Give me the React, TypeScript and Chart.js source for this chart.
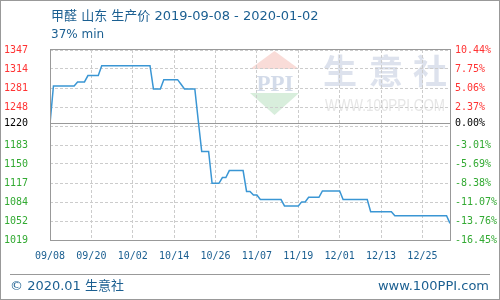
import { useEffect, useRef } from "react";
import { Chart, registerables } from "chart.js";

Chart.register(...registerables);

// ---- data ----
const titleText = "甲醛 山东 生产价 2019-09-08 - 2020-01-02";
const subtitleText = "37% min";
const footerLeft = "© 2020.01 生意社";
const footerRight = "www.100PPI.com";
const watermarkChars = ["生", "意", "社"];
const watermarkUrl = "WWW.100PPI.COM";
const logoText = "PPI";

const baseValue = 1220;
// daily prices, 2019-09-08 (day 0) .. 2020-01-02 (day 116)
const prices = [
  1220, 1285, 1285, 1285, 1285, 1285, 1285, 1285, 1292, 1292,
  1292, 1303, 1303, 1303, 1303, 1320, 1320, 1320, 1320, 1320,
  1320, 1320, 1320, 1320, 1320, 1320, 1320, 1320, 1320, 1320,
  1280, 1280, 1280, 1296, 1296, 1296, 1296, 1296, 1288, 1280,
  1280, 1280, 1280, 1225, 1172, 1172, 1172, 1117, 1117, 1117,
  1127, 1127, 1139, 1139, 1139, 1139, 1139, 1103, 1103, 1097,
  1097, 1089, 1089, 1089, 1089, 1089, 1089, 1089, 1078, 1078,
  1078, 1078, 1078, 1085, 1085, 1093, 1093, 1093, 1093, 1104,
  1104, 1104, 1104, 1104, 1104, 1089, 1089, 1089, 1089, 1089,
  1089, 1089, 1089, 1068, 1068, 1068, 1068, 1068, 1068, 1068,
  1061, 1061, 1061, 1061, 1061, 1061, 1061, 1061, 1061, 1061,
  1061, 1061, 1061, 1061, 1061, 1061, 1048,
];

const xTickDays = [0, 12, 24, 36, 48, 60, 72, 84, 96, 108];
const xTickLabels = ["09/08", "09/20", "10/02", "10/14", "10/26", "11/07", "11/19", "12/01", "12/13", "12/25"];

const yMin = 1019.2;
const yMax = 1347.2;
const yTickValues = [1019.2, 1052, 1084.8, 1117.6, 1150.4, 1183.2, 1216, 1220, 1248.8, 1281.6, 1314.4, 1347.2];
const leftTickLabels = ["1019", "1052", "1084", "1117", "1150", "1183", "", "1220", "1248", "1281", "1314", "1347"];
const rightTickLabels = ["-16.45%", "-13.76%", "-11.07%", "-8.38%", "-5.69%", "-3.01%", "", "0.00%", "2.37%", "5.06%", "7.75%", "10.44%"];

// ---- styles ----
const BLUE_TEXT = "#1b5f91";
const LINE_COLOR = "#3a96d4";
const GRID = "#cccccc";
const FRAME = "#999999";
const RED = "#ff3333";
const GREEN = "#33aa33";
const MONO = "'DejaVu Sans Mono', monospace";
const SANS = "'DejaVu Sans', 'Noto Sans CJK SC', sans-serif";

const tickColor = (ctx: any) => {
  const v = ctx.tick ? ctx.tick.value : 0;
  if (Math.abs(v - baseValue) < 1e-6) return "#000000";
  return v > baseValue ? RED : GREEN;
};

const decor = {
  id: "decor",
  beforeDraw(chart: any) {
    const ctx = chart.ctx as CanvasRenderingContext2D;
    ctx.save();
    ctx.fillStyle = "#ffffff";
    ctx.fillRect(0, 0, chart.width, chart.height);

    // logo: pink triangle, PPI, green triangle
    ctx.fillStyle = "#f9dcd8";
    ctx.beginPath();
    ctx.moveTo(274.5, 51);
    ctx.lineTo(299, 69);
    ctx.lineTo(250, 69);
    ctx.closePath();
    ctx.fill();
    ctx.fillStyle = "#d8eedc";
    ctx.beginPath();
    ctx.moveTo(250, 93);
    ctx.lineTo(299, 93);
    ctx.lineTo(274.5, 115);
    ctx.closePath();
    ctx.fill();
    ctx.fillStyle = "#d3dbe9";
    ctx.font = "bold 23px 'Liberation Serif', serif";
    ctx.textAlign = "center";
    ctx.textBaseline = "alphabetic";
    ctx.fillText(logoText, 275, 91, 47);

    // big watermark chars
    ctx.fillStyle = "#dde2ed";
    ctx.font = "bold 34px 'Noto Sans CJK SC', sans-serif";
    ctx.textBaseline = "middle";
    const centers = [340, 386, 430];
    watermarkChars.forEach((c, i) => ctx.fillText(c, centers[i], 71));
    ctx.fillStyle = "#e6e6e6";
    ctx.font = "16px 'Liberation Sans', sans-serif";
    ctx.textBaseline = "alphabetic";
    ctx.fillText(watermarkUrl, 385, 111, 120);
    ctx.restore();
  },
  afterDraw(chart: any) {
    const ctx = chart.ctx as CanvasRenderingContext2D;
    const a = chart.chartArea;
    ctx.save();
    ctx.strokeStyle = FRAME;
    ctx.lineWidth = 1;
    ctx.setLineDash([]);
    // plot frame
    ctx.strokeRect(Math.round(a.left) + 0.5, Math.round(a.top) - 0.5, Math.round(a.right - a.left), Math.round(a.bottom - a.top) + 1);
    // outer frame
    ctx.strokeRect(0.5, 0.5, chart.width - 1, chart.height - 1);
    // footer rule
    ctx.beginPath();
    ctx.moveTo(10, 274.5);
    ctx.lineTo(490, 274.5);
    ctx.stroke();

    ctx.fillStyle = BLUE_TEXT;
    ctx.textBaseline = "alphabetic";
    ctx.textAlign = "left";
    ctx.font = "13px " + SANS;
    ctx.fillText(titleText, 51, 20);
    ctx.font = "12px " + SANS;
    ctx.fillText(subtitleText, 51, 38);
    ctx.font = "13px " + SANS;
    ctx.fillText(footerLeft, 10, 290);
    ctx.textAlign = "right";
    ctx.fillText(footerRight, 489, 290);
    ctx.restore();
  },
};

export default function App() {
  const ref = useRef<HTMLCanvasElement>(null);
  useEffect(() => {
    document.body.style.margin = "0";
    const canvas = ref.current!;
    const chart = new Chart(canvas, {
      type: "line",
      data: {
        datasets: [
          {
            data: prices.map((v, i) => ({ x: i, y: v })),
            borderColor: LINE_COLOR,
            borderWidth: 1.5,
            pointRadius: 0,
            tension: 0,
            fill: false,
          },
        ],
      },
      options: {
        responsive: false,
        animation: false,
        devicePixelRatio: 1,
        layout: { padding: { top: 50, left: 0, right: 0, bottom: 0 } },
        plugins: {
          legend: { display: false },
          tooltip: { enabled: false },
          title: { display: false },
        },
        scales: {
          x: {
            type: "linear",
            position: "bottom",
            min: 0,
            max: prices.length - 1,
            afterBuildTicks: (s: any) => {
              s.ticks = xTickDays.map((v) => ({ value: v }));
            },
            afterFit: (s: any) => {
              s.height = 60;
            },
            ticks: {
              autoSkip: false,
              maxRotation: 0,
              padding: 10,
              color: BLUE_TEXT,
              font: { family: MONO, size: 10 },
              callback: (_v: any, i: number) => xTickLabels[i],
            },
            grid: { color: GRID, drawTicks: false, lineWidth: 1 },
            border: { display: false, dash: [3, 2] },
          },
          y: {
            type: "linear",
            position: "left",
            min: yMin,
            max: yMax,
            afterBuildTicks: (s: any) => {
              s.ticks = yTickValues.map((v) => ({ value: v }));
            },
            afterFit: (s: any) => {
              s.width = 50;
            },
            ticks: {
              autoSkip: false,
              padding: 22,
              color: tickColor,
              font: { family: MONO, size: 10 },
              callback: (_v: any, i: number) => leftTickLabels[i],
            },
            grid: {
              drawTicks: false,
              lineWidth: 1,
              color: (ctx: any) => (ctx.tick && Math.abs(ctx.tick.value - baseValue) < 1e-6 ? FRAME : GRID),
            },
            border: {
              display: false,
              dash: (ctx: any) => (ctx.tick && Math.abs(ctx.tick.value - baseValue) < 1e-6 ? [] : [3, 2]),
            },
          },
          y2: {
            type: "linear",
            position: "right",
            min: yMin,
            max: yMax,
            afterBuildTicks: (s: any) => {
              s.ticks = yTickValues.map((v) => ({ value: v }));
            },
            afterFit: (s: any) => {
              s.width = 50;
            },
            ticks: {
              autoSkip: false,
              padding: 5,
              color: tickColor,
              font: { family: MONO, size: 10 },
              callback: (_v: any, i: number) => rightTickLabels[i],
            },
            grid: { display: false, drawTicks: false },
            border: { display: false },
          },
        },
      },
      plugins: [decor],
    } as any);
    return () => chart.destroy();
  }, []);
  return (
    <div style={{ width: 500, height: 300 }}>
      <canvas ref={ref} width={500} height={300} style={{ display: "block" }} />
    </div>
  );
}
